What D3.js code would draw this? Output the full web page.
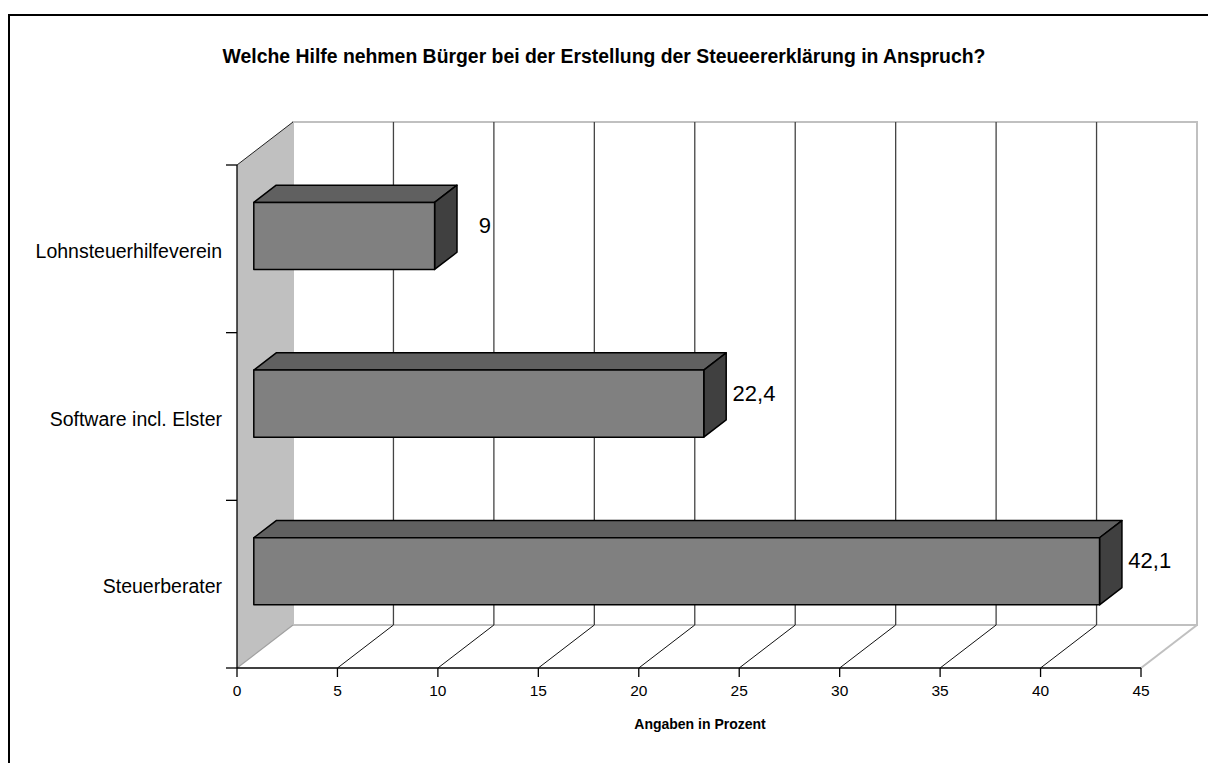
<!DOCTYPE html>
<html>
<head>
<meta charset="utf-8">
<script src="https://cdn.jsdelivr.net/npm/d3@7"></script>
<style>
  html, body { margin: 0; padding: 0; background: #fff; }
  svg { display: block; font-family: "Liberation Sans", Arial, Helvetica, sans-serif; }
</style>
</head>
<body>
<svg id="chart" width="1208" height="763"></svg>
<script>
// Chart data
const title = "Welche Hilfe nehmen Bürger bei der Erstellung der Steueererklärung in Anspruch?";
const axisTitle = "Angaben in Prozent";
const categories = ["Lohnsteuerhilfeverein", "Software incl. Elster", "Steuerberater"];
const values = [9, 22.4, 42.1];
const valueLabels = ["9", "22,4", "42,1"];
const xTicks = [0, 5, 10, 15, 20, 25, 30, 35, 40, 45];

const svg = d3.select("#chart");

// Frame and 3D geometry
const front = { left: 237, right: 1141, top: 165, bottom: 668 };
const DX = 56, DY = -43;            // offset from front plane to back wall
const depthStart = 0.3, depthEnd = 0.7; // bar position within the depth
const barShare = 0.4;               // bar thickness as share of the band

const x = d3.scaleLinear().domain([0, 45]).range([front.left, front.right]);
const y = d3.scaleBand().domain(categories).range([front.top, front.bottom]).padding(0);

const pt = (px, py, d) => [px + d * DX, py + d * DY];
const poly = pts => pts.map(p => p.join(",")).join(" ");

// Outer frame
svg.append("rect")
  .attr("x", 9).attr("y", 15).attr("width", 1400).attr("height", 1000)
  .attr("fill", "none").attr("stroke", "#000").attr("stroke-width", 2);

// Title
svg.append("text")
  .attr("x", 604).attr("y", 56)
  .attr("text-anchor", "middle").attr("dominant-baseline", "central")
  .attr("font-weight", "bold").attr("font-size", 19.4)
  .text(title);

// Back wall
const [bwL, bwT] = pt(front.left, front.top, 1);
const [bwR, bwB] = pt(front.right, front.bottom, 1);
svg.append("rect")
  .attr("x", bwL).attr("y", bwT).attr("width", bwR - bwL).attr("height", bwB - bwT)
  .attr("fill", "#fff").attr("stroke", "#c0c0c0").attr("stroke-width", 2);

// Side wall
svg.append("polygon")
  .attr("points", poly([[front.left, front.top], pt(front.left, front.top, 1),
                        pt(front.left, front.bottom, 1), [front.left, front.bottom]]))
  .attr("fill", "#c0c0c0").attr("stroke", "none");
svg.append("line")
  .attr("x1", front.left).attr("y1", front.top)
  .attr("x2", bwL).attr("y2", bwT)
  .attr("stroke", "#222").attr("stroke-width", 1);
svg.append("line")
  .attr("x1", front.left).attr("y1", front.bottom)
  .attr("x2", bwL).attr("y2", bwB)
  .attr("stroke", "#a0a0a0").attr("stroke-width", 1.2);

// Floor edges
svg.append("line")
  .attr("x1", front.right).attr("y1", front.bottom)
  .attr("x2", bwR).attr("y2", bwB)
  .attr("stroke", "#c0c0c0").attr("stroke-width", 2);

// Gridlines on the back wall and the floor
const inner = xTicks.filter(v => v > 0 && v < 45);
svg.append("g").selectAll("line").data(inner).join("line")
  .attr("x1", v => x(v) + DX).attr("x2", v => x(v) + DX)
  .attr("y1", bwT).attr("y2", bwB)
  .attr("stroke", "#444").attr("stroke-width", 1.3);
svg.append("g").selectAll("line").data(inner).join("line")
  .attr("x1", v => x(v)).attr("y1", front.bottom)
  .attr("x2", v => x(v) + DX).attr("y2", bwB)
  .attr("stroke", "#111").attr("stroke-width", 1);

// Axes
svg.append("line")
  .attr("x1", front.left).attr("x2", front.left)
  .attr("y1", front.top).attr("y2", front.bottom)
  .attr("stroke", "#000").attr("stroke-width", 1.3);
svg.append("line")
  .attr("x1", front.left).attr("x2", front.right)
  .attr("y1", front.bottom).attr("y2", front.bottom)
  .attr("stroke", "#000").attr("stroke-width", 1.3);

// Category boundary ticks
const bounds = categories.map(c => y(c)).concat([front.bottom]);
svg.append("g").selectAll("line").data(bounds).join("line")
  .attr("x1", front.left - 11).attr("x2", front.left)
  .attr("y1", d => d).attr("y2", d => d)
  .attr("stroke", "#000").attr("stroke-width", 1.3);

// Value ticks
svg.append("g").selectAll("line").data(xTicks).join("line")
  .attr("x1", v => x(v)).attr("x2", v => x(v))
  .attr("y1", front.bottom).attr("y2", front.bottom + 9)
  .attr("stroke", "#000").attr("stroke-width", 1.3);
svg.append("g").selectAll("text").data(xTicks).join("text")
  .attr("x", v => x(v)).attr("y", 690)
  .attr("text-anchor", "middle").attr("dominant-baseline", "central")
  .attr("font-size", 15.5)
  .text(v => v);

svg.append("text")
  .attr("x", 700).attr("y", 724)
  .attr("text-anchor", "middle").attr("dominant-baseline", "central")
  .attr("font-weight", "bold").attr("font-size", 14)
  .text(axisTitle);

// Category labels
svg.append("g").selectAll("text").data(categories).join("text")
  .attr("x", 222).attr("y", c => y(c) + y.bandwidth() / 2 + 2)
  .attr("text-anchor", "end").attr("dominant-baseline", "central")
  .attr("font-size", 19.5)
  .text(c => c);

// Bars
const bars = svg.append("g");
categories.forEach((c, i) => {
  const mid = y(c) + y.bandwidth() / 2;
  const h = y.bandwidth() * barShare;
  const t = mid - h / 2, b = mid + h / 2;
  const x0 = x(0), x1 = x(values[i]);
  const fTL = pt(x0, t, depthStart), fTR = pt(x1, t, depthStart);
  const fBL = pt(x0, b, depthStart), fBR = pt(x1, b, depthStart);
  const bTL = pt(x0, t, depthEnd), bTR = pt(x1, t, depthEnd);
  const bBR = pt(x1, b, depthEnd);
  const g = bars.append("g").attr("stroke", "#000").attr("stroke-width", 1.5)
    .attr("stroke-linejoin", "round");
  g.append("polygon").attr("points", poly([fTL, bTL, bTR, fTR])).attr("fill", "#606060");
  g.append("polygon").attr("points", poly([fTR, bTR, bBR, fBR])).attr("fill", "#404040");
  g.append("polygon").attr("points", poly([fTL, fTR, fBR, fBL])).attr("fill", "#808080");

  const [lx, ly] = pt(x1, mid, 0.5);
  bars.append("text")
    .attr("x", lx + 39).attr("y", ly - 2)
    .attr("text-anchor", "middle").attr("dominant-baseline", "central")
    .attr("font-size", 22)
    .text(valueLabels[i]);
});
</script>
</body>
</html>
